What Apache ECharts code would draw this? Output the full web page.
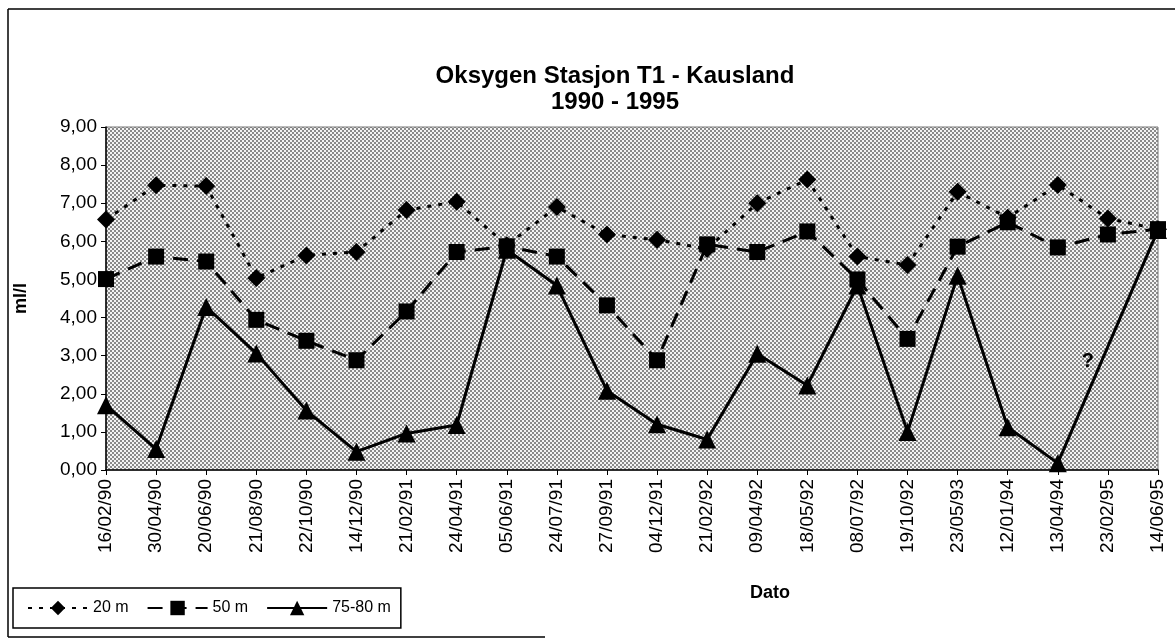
<!DOCTYPE html>
<html>
<head>
<meta charset="utf-8">
<script src="https://cdn.jsdelivr.net/npm/echarts@6/dist/echarts.min.js"></script>
<style>
  html, body { margin: 0; padding: 0; background: #fff; }
  #chart { width: 1175px; height: 641px; }
</style>
</head>
<body>
<div id="chart"></div>
<script>
// sample dates (x categories)
var dates = ['16/02/90', '30/04/90', '20/06/90', '21/08/90', '22/10/90', '14/12/90', '21/02/91', '24/04/91',
  '05/06/91', '24/07/91', '27/09/91', '04/12/91', '21/02/92', '09/04/92', '18/05/92', '08/07/92',
  '19/10/92', '23/05/93', '12/01/94', '13/04/94', '23/02/95', '14/06/95']

// oxygen, ml/l
var m20 = [6.57, 7.47, 7.45, 5.04, 5.63, 5.72, 6.82, 7.04, 5.9, 6.9, 6.18, 6.04, 5.8, 7.0, 7.62, 5.6, 5.38, 7.3, 6.62, 7.48, 6.6, 6.32]
var m50 = [5.01, 5.6, 5.47, 3.94, 3.39, 2.88, 4.16, 5.72, 5.87, 5.6, 4.32, 2.88, 5.92, 5.72, 6.26, 5.0, 3.44, 5.86, 6.5, 5.84, 6.18, 6.32]
var m75 = [1.7, 0.55, 4.28, 3.06, 1.56, 0.48, 0.96, 1.18, 5.78, 4.84, 2.08, 1.2, 0.8, 3.05, 2.22, 4.84, 1.0, 5.1, 1.12, 0.18, null, 6.3]

var seriesNames = ['20 m', '50 m', '75-80 m']

// stipple fill for the plot area
function makeStipple() {
  var c = document.createElement('canvas')
  c.width = 4
  c.height = 4
  var ctx = c.getContext('2d')
  ctx.fillStyle = '#f4f4f4'
  ctx.fillRect(0, 0, 4, 4)
  ctx.fillStyle = '#8a8a8a'
  ctx.fillRect(0, 0, 2, 2)
  ctx.fillRect(2, 2, 2, 2)
  return c
}

var font = '"Liberation Sans", Arial, sans-serif'

var chart = echarts.init(document.getElementById('chart'), null, { renderer: 'canvas' })

var lineBase = { color: '#000', width: 3 }

chart.setOption({
  animation: false,
  backgroundColor: '#fff',
  title: [
    {
      text: 'Oksygen Stasjon T1 - Kausland\n1990 - 1995',
      left: 610,
      top: 58,
      textAlign: 'center',
      textStyle: { fontFamily: font, fontWeight: 'bold', fontSize: 24, lineHeight: 26, color: '#000' },
    },
  ],
  grid: {
    left: 106,
    right: 17,
    top: 127,
    bottom: 171,
    show: true,
    backgroundColor: { image: makeStipple(), repeat: 'repeat' },
    borderColor: '#777',
    borderWidth: 1,
  },
  legend: {
    data: seriesNames,
    left: 13,
    top: 588,
    padding: [12, 10, 12, 14],
    itemGap: 18,
    itemWidth: 60,
    itemHeight: 18,
    borderColor: '#000',
    borderWidth: 1.5,
    textStyle: { fontFamily: font, fontSize: 16, color: '#000' },
  },
  xAxis: {
    type: 'category',
    data: dates,
    boundaryGap: false,
    axisLine: { lineStyle: { color: '#000', width: 1.5 } },
    axisTick: { show: true, length: 5, lineStyle: { color: '#000' } },
    axisLabel: { rotate: 90, interval: 0, margin: 9, fontFamily: font, fontSize: 19, color: '#000' },
    splitLine: { show: false },
  },
  yAxis: {
    type: 'value',
    min: 0,
    max: 9,
    interval: 1,
    name: 'ml/l',
    nameLocation: 'middle',
    nameGap: 76,
    nameTextStyle: { fontFamily: font, fontWeight: 'bold', fontSize: 18, color: '#000' },
    axisLine: { show: true, lineStyle: { color: '#000', width: 1.5 } },
    axisTick: { show: true, length: 5, lineStyle: { color: '#000' } },
    axisLabel: {
      margin: 9,
      fontFamily: font,
      fontSize: 19,
      color: '#000',
      formatter: v => v.toFixed(2).replace('.', ','),
    },
    splitLine: { show: false },
  },
  graphic: [
    // outer frame (scan shows top, left and part of bottom)
    { type: 'line', shape: { x1: 8, y1: 9, x2: 1175, y2: 9 }, style: { stroke: '#000', lineWidth: 1.5 } },
    { type: 'line', shape: { x1: 8, y1: 9, x2: 8, y2: 637 }, style: { stroke: '#000', lineWidth: 1.5 } },
    { type: 'line', shape: { x1: 8, y1: 637, x2: 545, y2: 637 }, style: { stroke: '#000', lineWidth: 1.5 } },
    {
      type: 'text',
      left: 750,
      top: 584,
      style: { text: 'Dato', fontFamily: font, fontWeight: 'bold', fontSize: 18, fill: '#000' },
    },
  ],
  series: [
    {
      name: '20 m',
      type: 'line',
      data: m20,
      symbol: 'diamond',
      symbolSize: 18,
      itemStyle: { color: '#000' },
      lineStyle: { ...lineBase, type: [4, 7] },
    },
    {
      name: '50 m',
      type: 'line',
      data: m50,
      symbol: 'rect',
      symbolSize: 16,
      itemStyle: { color: '#000' },
      lineStyle: { ...lineBase, type: [15, 9] },
    },
    {
      name: '75-80 m',
      type: 'line',
      data: m75,
      connectNulls: true,
      symbol: 'triangle',
      symbolSize: 18,
      itemStyle: { color: '#000' },
      lineStyle: { ...lineBase, type: 'solid' },
      markPoint: {
        symbol: 'circle',
        symbolSize: 1,
        itemStyle: { color: 'rgba(0,0,0,0)' },
        label: {
          show: true,
          position: 'inside',
          formatter: '?',
          offset: [-20, 0],
          fontFamily: font,
          fontWeight: 'bold',
          fontSize: 20,
          color: '#000',
        },
        data: [{ coord: ['23/02/95', 2.85] }],
      },
    },
  ],
})
</script>
</body>
</html>
